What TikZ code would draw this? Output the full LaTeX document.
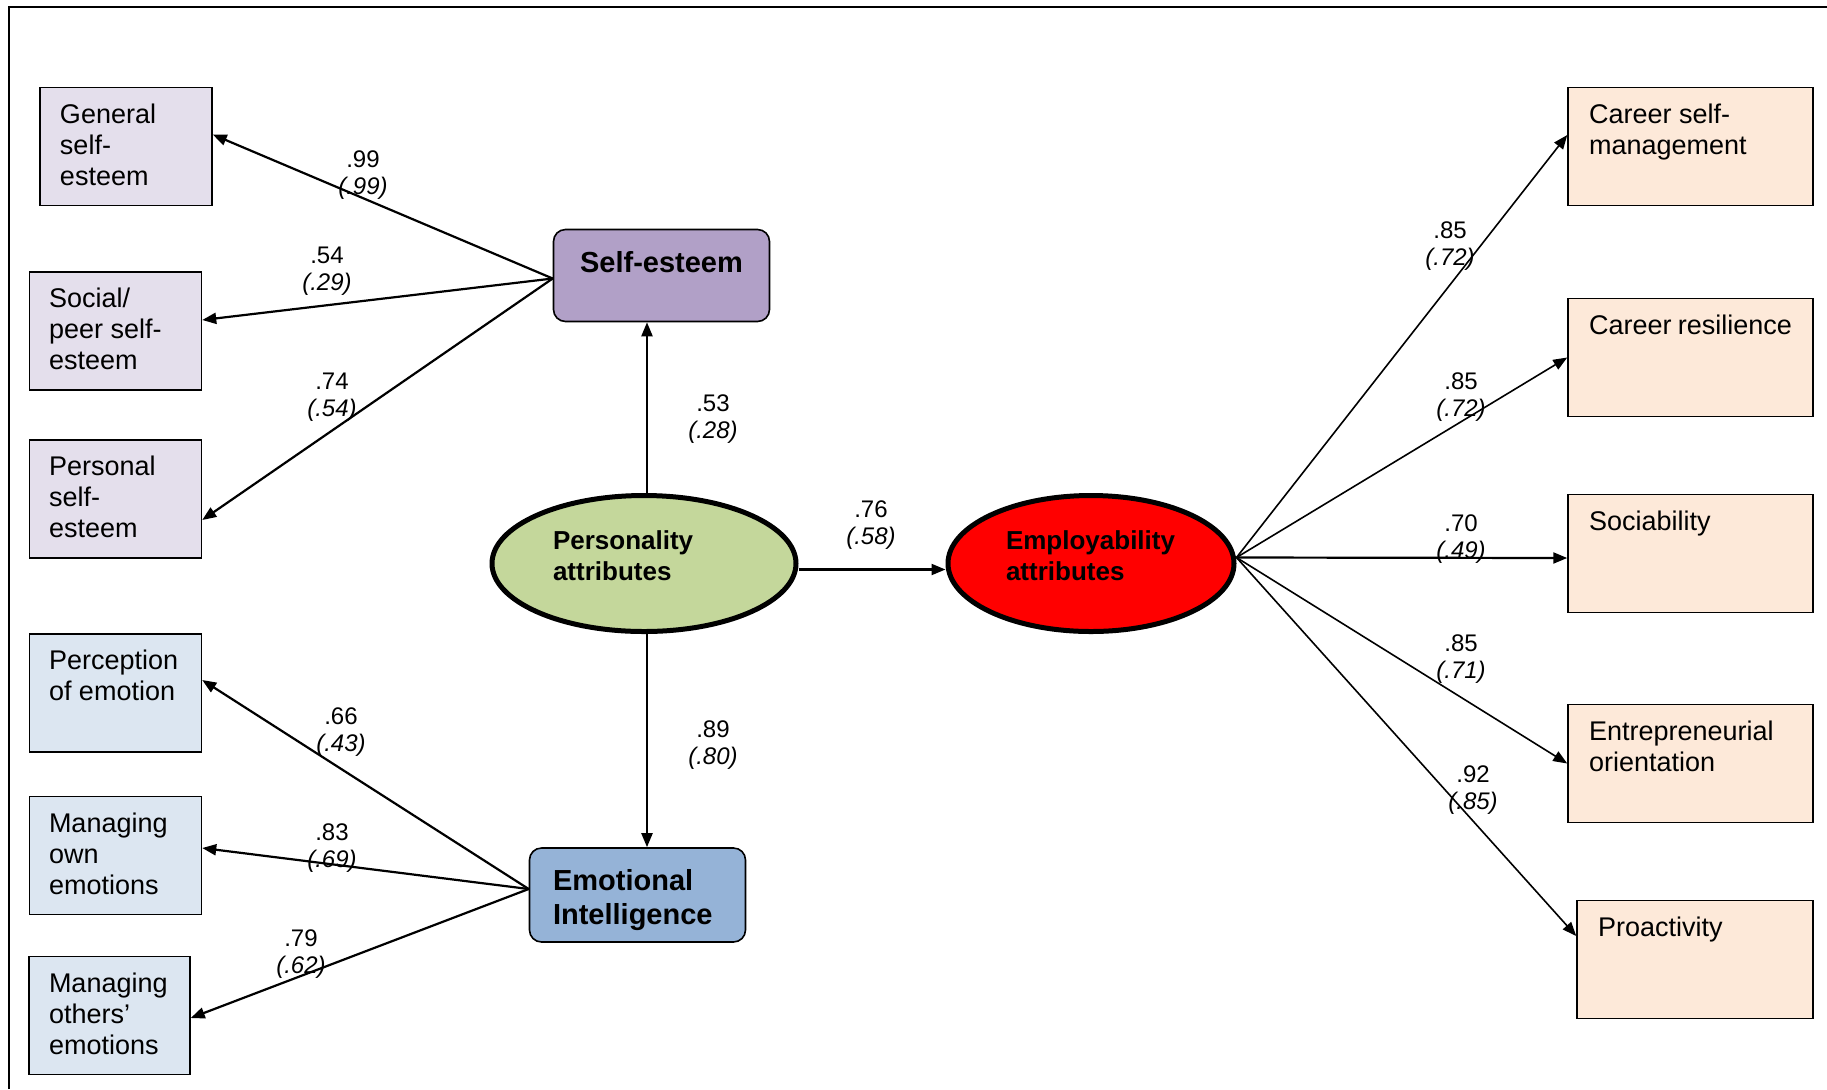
\documentclass[tikz,border=0pt]{standalone}
\usepackage{fontspec}
\setmainfont{Liberation Sans}
\usetikzlibrary{shapes.geometric,arrows.meta,positioning}
\definecolor{SelfLight}{HTML}{E4DFEC}
\definecolor{SelfPurple}{HTML}{B1A0C7}
\definecolor{EmoLight}{HTML}{DCE6F1}
\definecolor{EmoBlue}{HTML}{95B3D7}
\definecolor{PersGreen}{HTML}{C4D79B}
\definecolor{EmpRed}{HTML}{FF0000}
\definecolor{EmpLight}{HTML}{FDE9D9}
\newcommand{\boxtext}[3]{\parbox[c][#2][t]{#1}{\raggedright #3}}
\hyphenpenalty=10000

\begin{document}
\begin{tikzpicture}[
  x=0.5pt, y=-0.5pt,
  ind/.style={rectangle, draw, line width=0.75pt, inner sep=0pt, minimum width=86pt, minimum height=59pt, font=\fontsize{13.5}{15.5}\selectfont},
  outbox/.style={ind, fill=EmpLight, minimum width=122.5pt},
  latent/.style={rectangle, rounded corners=6pt, draw, line width=0.8pt, inner sep=0pt, minimum width=108pt, minimum height=46pt, font=\fontsize{14.5}{17}\selectfont\bfseries},
  factor/.style={ellipse, draw, line width=2.5pt, inner sep=0pt, minimum height=68pt, font=\fontsize{13}{15.5}\selectfont\bfseries},
  coef/.style={inner sep=0pt, align=center, font=\fontsize{12}{13.5}\selectfont},
  arrowL/.style={-{Triangle[length=7pt,width=5.5pt]}, line width=1.1pt},
  arrowR/.style={-{Triangle[length=7pt,width=5.5pt]}, line width=0.8pt}
]
\useasboundingbox (0,0) rectangle (1827,1089);

% Frame
\draw[line width=1pt] (9,1089) |- (1827,7);

% Self-esteem indicators
\node[ind, fill=SelfLight] (gen) at (126,146.5) {\boxtext{66pt}{43pt}{General\\self-\\esteem}};
\node[ind, fill=SelfLight] (soc) at (115.5,331) {\boxtext{66.5pt}{43pt}{Social/\\peer self-\\esteem}};
\node[ind, fill=SelfLight] (pers) at (115.5,499) {\boxtext{66.5pt}{43pt}{Personal\\self-\\esteem}};

% Emotional intelligence indicators
\node[ind, fill=EmoLight] (perc) at (115.5,693) {\boxtext{66.5pt}{43pt}{Perception\\of emotion}};
\node[ind, fill=EmoLight] (own) at (115.5,855.5) {\boxtext{66.5pt}{43pt}{Managing\\own\\emotions}};
\node[ind, fill=EmoLight, minimum width=80.5pt] (oth) at (109.5,1015.5) {\boxtext{60.5pt}{43pt}{Managing\\others'\\emotions}};

% Latent variables
\node[latent, fill=SelfPurple] (se) at (661.5,275.5) {\parbox[c][24pt][t]{96pt}{\centering Self-esteem}};
\node[latent, fill=EmoBlue, minimum height=47pt] (ei) at (637.5,895) {\boxtext{84.5pt}{26pt}{Emotional\\Intelligence}};
\node[factor, fill=PersGreen, minimum width=152pt] (pa) at (644,563.5) {\boxtext{91pt}{33pt}{Personality\\attributes}};
\node[factor, fill=EmpRed, minimum width=143pt] (emp) at (1091,563.5) {\boxtext{85pt}{33pt}{Employability\\attributes}};

% Employability indicators
\node[outbox] (csm) at (1690.5,146.5) {\boxtext{101.5pt}{43pt}{Career self-\\management}};
\node[outbox] (cres) at (1690.5,357.5) {\boxtext{101.5pt}{43pt}{Career~resilience}};
\node[outbox] (soci) at (1690.5,553.5) {\boxtext{101.5pt}{43pt}{Sociability}};
\node[outbox] (ent) at (1690.5,763.5) {\boxtext{101.5pt}{43pt}{Entrepreneurial\\orientation}};
\node[outbox, minimum width=118pt] (pro) at (1695,959.5) {\boxtext{97pt}{43pt}{Proactivity}};

% Arrows
\draw[arrowL] ([yshift=-1.5pt]se.west) -- ([yshift=6pt]gen.east);
\draw[arrowL] ([yshift=-1.5pt]se.west) -- ([yshift=5.5pt]soc.east);
\draw[arrowL] ([yshift=-1.5pt]se.west) -- ([yshift=-10.5pt]pers.east);
\draw[arrowL] ([yshift=3pt]ei.west) -- ([yshift=6.5pt]perc.east);
\draw[arrowL] ([yshift=3pt]ei.west) -- ([yshift=3.75pt]own.east);
\draw[arrowL] ([yshift=3pt]ei.west) -- ([yshift=-1.25pt]oth.east);
\draw[arrowL] ([xshift=1.5pt]pa.north) -- ([xshift=1.5pt]pa.north |- se.south);
\draw[arrowL] ([xshift=1.5pt]pa.south) -- ([xshift=1.5pt]pa.south |- ei.north);
\draw[arrowL] ([yshift=-3pt]pa.east) -- ([yshift=-3pt]emp.west);
\draw[arrowR] ([yshift=3pt]emp.east) -- ([yshift=5.75pt]csm.west);
\draw[arrowR] ([yshift=3pt]emp.east) -- (cres.west);
\draw[arrowL] ([yshift=3pt]emp.east) -- ([yshift=-2.25pt]soci.west);
\draw[arrowR] ([yshift=3pt]emp.east) -- (ent.west);
\draw[arrowR] ([yshift=3pt]emp.east) -- ([yshift=11.75pt]pro.west);

% Coefficients
\node[coef] (lgen) at (363,175.5) {.99\\\textit{(.99)}};
\node[coef] (lsoc) at (327,271) {.54\\\textit{(.29)}};
\node[coef] (lpers) at (332,397.5) {.74\\\textit{(.54)}};
\node[coef] (lse) at (713,419.5) {.53\\\textit{(.28)}};
\node[coef] (lperc) at (341,732) {.66\\\textit{(.43)}};
\node[coef] (lown) at (332,848) {.83\\\textit{(.69)}};
\node[coef] (loth) at (301,954.5) {.79\\\textit{(.62)}};
\node[coef] (lei) at (713,745) {.89\\\textit{(.80)}};
\node[coef] (lemp) at (871,525.5) {.76\\\textit{(.58)}};
\node[coef] (lcsm) at (1450,246.5) {.85\\\textit{(.72)}};
\node[coef] (lcres) at (1461,397) {.85\\\textit{(.72)}};
\node[coef] (lsoci) at (1461,539) {.70\\\textit{(.49)}};
\node[coef] (lent) at (1461,659.5) {.85\\\textit{(.71)}};
\node[coef] (lpro) at (1473,790) {.92\\\textit{(.85)}};

\end{tikzpicture}
\end{document}
